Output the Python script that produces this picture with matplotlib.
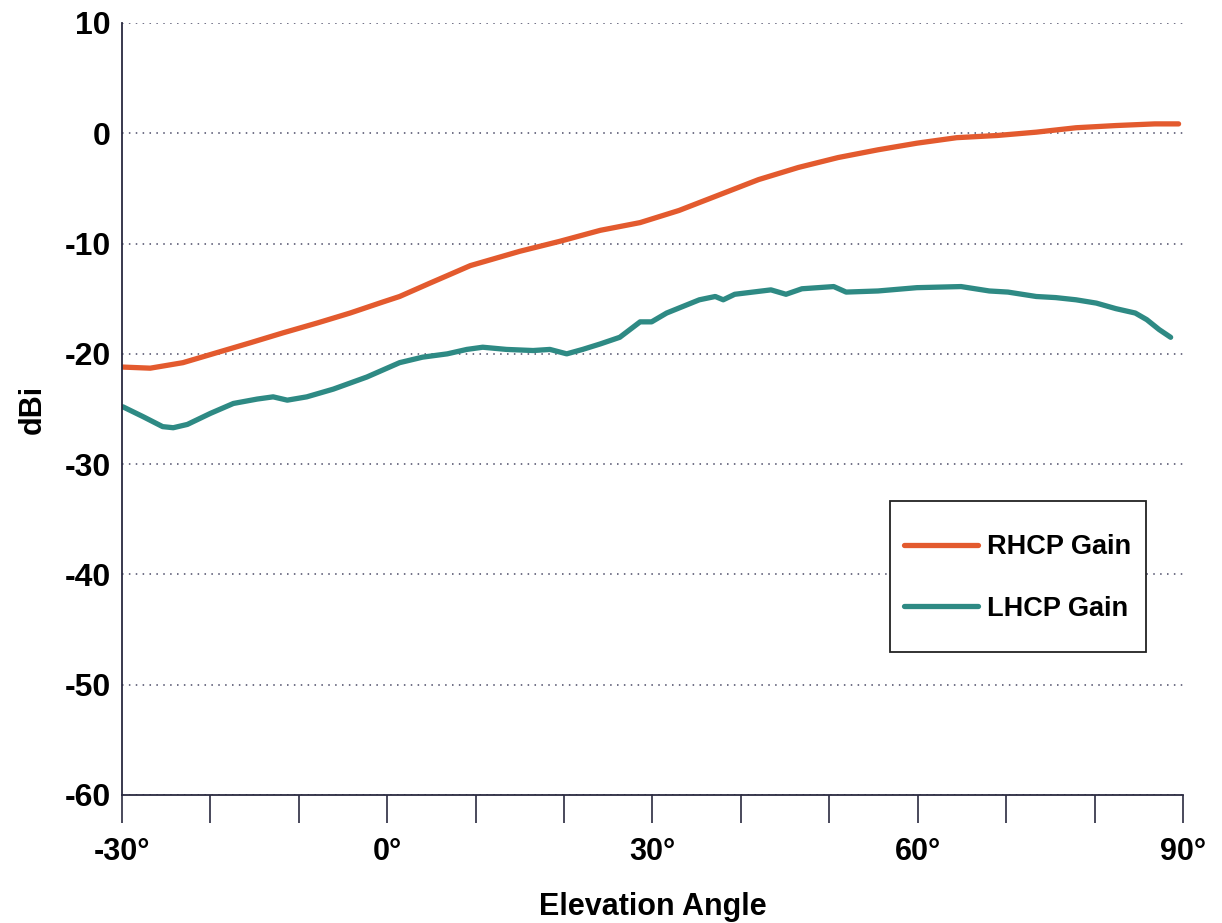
import matplotlib
matplotlib.use("Agg")
import matplotlib.pyplot as plt
from matplotlib.patches import Rectangle
from matplotlib.ticker import MultipleLocator, FuncFormatter

# values
rhcp_angle = [-29.9, -26.8, -23.1, -19.3, -15.5, -11.8, -7.9, -4.2, -0.5, 1.4, 4.8, 9.4,
              15.0, 19.5, 24.1, 28.6, 33.0, 37.5, 42.0, 46.5, 51.0, 55.5, 59.9, 64.4,
              69.0, 73.4, 77.9, 82.4, 86.8, 89.5]
rhcp_gain = [-21.2, -21.3, -20.8, -19.9, -19.0, -18.1, -17.2, -16.3, -15.3, -14.8, -13.6, -12.0,
             -10.7, -9.8, -8.8, -8.1, -7.0, -5.6, -4.2, -3.1, -2.2, -1.5, -0.9, -0.4,
             -0.2, 0.1, 0.5, 0.7, 0.85, 0.85]

lhcp_angle = [-29.9, -27.6, -25.4, -24.2, -22.6, -20.0, -17.4, -14.7, -12.9, -11.3, -9.1, -6.1,
              -2.3, 1.4, 4.0, 6.8, 9.0, 10.8, 13.5, 16.5, 18.4, 20.3, 22.1, 24.1, 26.3,
              28.6, 29.9, 31.6, 35.3, 37.1, 38.0, 39.3, 43.4, 45.1, 46.9, 50.5, 51.9,
              55.5, 59.9, 64.9, 68.1, 70.2, 73.4, 75.6, 77.9, 80.2, 82.4, 84.6, 85.9,
              87.3, 88.6]
lhcp_gain = [-24.8, -25.7, -26.6, -26.7, -26.4, -25.4, -24.5, -24.1, -23.9, -24.2, -23.9, -23.2,
             -22.1, -20.8, -20.3, -20.0, -19.6, -19.4, -19.6, -19.7, -19.6, -20.0, -19.6, -19.1, -18.5,
             -17.1, -17.1, -16.3, -15.1, -14.8, -15.1, -14.6, -14.2, -14.6, -14.1, -13.9, -14.4,
             -14.3, -14.0, -13.9, -14.3, -14.4, -14.8, -14.9, -15.1, -15.4, -15.9, -16.3, -16.9,
             -17.8, -18.5]

plt.rcParams['font.family'] = ['Liberation Sans', 'DejaVu Sans']
plt.rcParams['font.weight'] = 'bold'
plt.rcParams['axes.unicode_minus'] = False

fig = plt.figure(figsize=(12.22, 9.23), dpi=100)
ax = fig.add_axes([0.0998, 0.1387, 0.8683, 0.8364])

ax.plot(rhcp_angle, rhcp_gain, '-', color='#E35A2E', linewidth=3.8, label='RHCP Gain',
        solid_capstyle='round')
ax.plot(lhcp_angle, lhcp_gain, '-', color='#2E8A84', linewidth=3.8, label='LHCP Gain',
        solid_capstyle='round')

ax.set_xlim(-30, 90)
ax.set_ylim(-60, 10)
ax.xaxis.set_major_locator(MultipleLocator(10))
ax.xaxis.set_major_formatter(FuncFormatter(lambda v, p: '%d\u00b0' % v if round(v) % 30 == 0 else ''))
ax.yaxis.set_major_locator(MultipleLocator(10))

for sp in ['top', 'right']:
  ax.spines[sp].set_visible(False)
for sp in ['left', 'bottom']:
  ax.spines[sp].set_color('#2a2a40')
  ax.spines[sp].set_linewidth(1.3)

ax.tick_params(axis='x', direction='out', length=20, width=1.2, color='#2a2a40',
               labelsize=22, pad=10)
ax.tick_params(axis='y', length=0, labelsize=23, pad=8)

ax.grid(True, axis='y', linestyle=(0, (1, 3.5)), linewidth=1.1, color='#4a4a66')
ax.set_axisbelow(True)

ax.set_xlabel('Elevation Angle', fontsize=22, fontweight='bold', labelpad=18)
ax.set_ylabel('dBi', fontsize=22, fontweight='bold', labelpad=12)

# legend box drawn separately so the padding can differ vertically and horizontally
box = Rectangle((0.7238, 0.1852), 0.2414, 0.1956, transform=ax.transAxes,
                facecolor='white', edgecolor='#222222', linewidth=1.3, zorder=4)
ax.add_patch(box)
leg = ax.legend(loc='center left', bbox_to_anchor=(0.737, 0.281), fontsize=19.5,
                frameon=False, handlelength=2.75, handletextpad=0.3, borderpad=0,
                labelspacing=1.3, borderaxespad=0)
leg.set_zorder(5)

fig.savefig('out.png', dpi=100)
